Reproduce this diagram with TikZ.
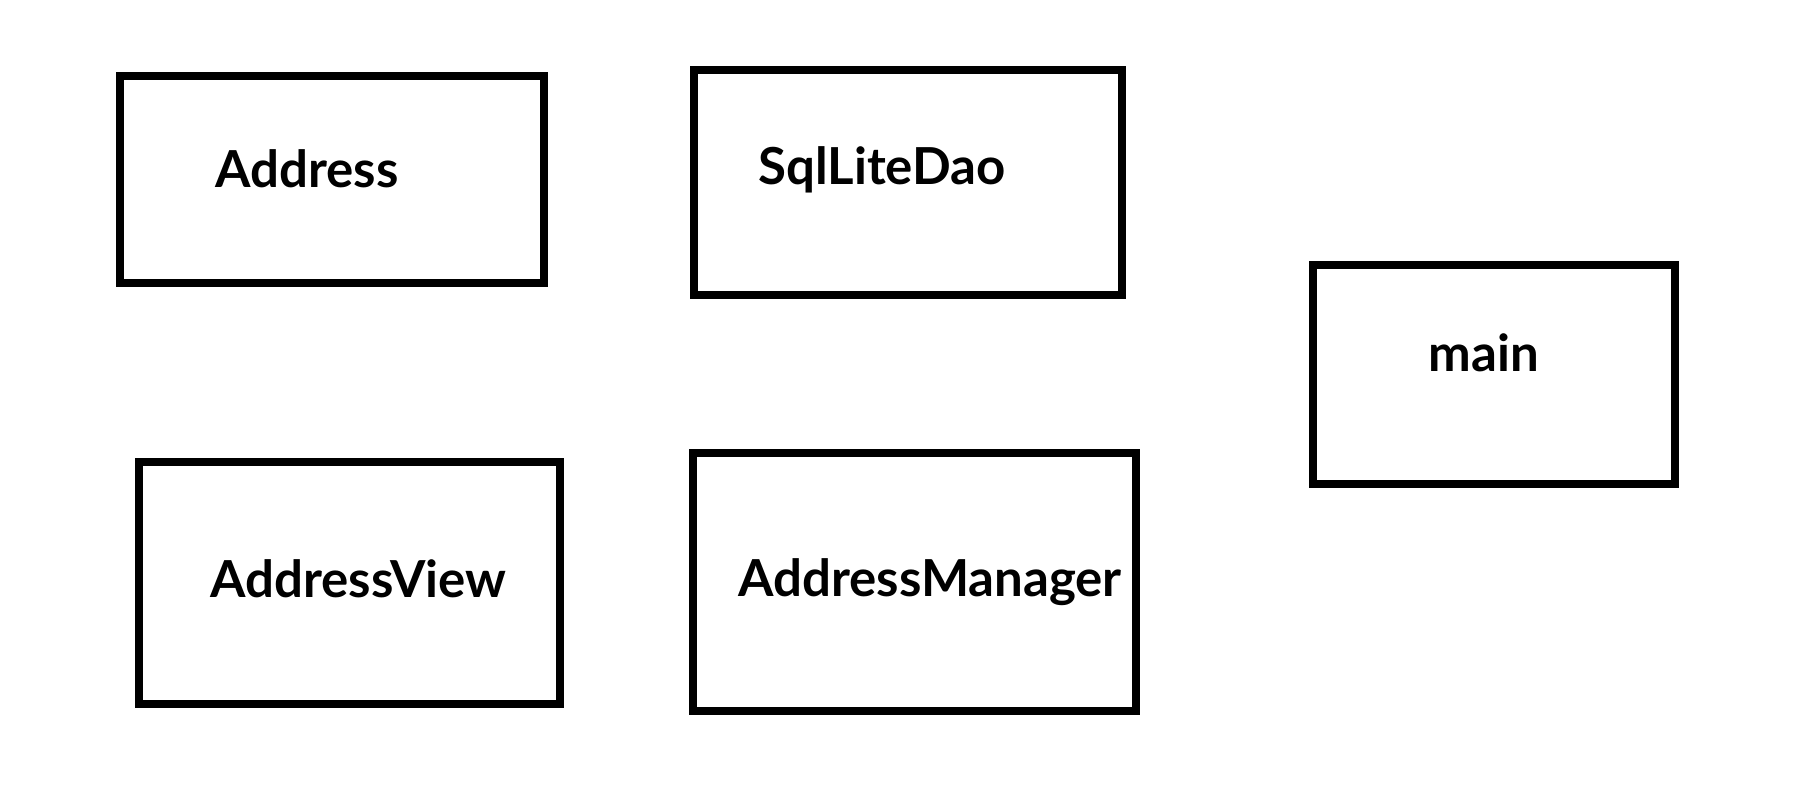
\documentclass[tikz,border=0pt]{standalone}
\usepackage{fontspec}
\setmainfont{Lato}
\begin{document}
\begin{tikzpicture}
	[x=0.5pt, y=-0.5pt,
	box/.style = {draw, rectangle, line width=4pt, inner sep=0pt},
	lbl/.style = {anchor=base west, inner sep=0pt, font=\fontsize{25.5}{30}\selectfont\bfseries}]
\useasboundingbox (0,0) rectangle (1794,801);
\node[box, minimum width=212pt, minimum height=103.5pt] (address) at (332,179.5) {};
\node[box, minimum width=214pt, minimum height=112.5pt] (dao) at (908,182.5) {};
\node[box, minimum width=181pt, minimum height=109.5pt] (main) at (1494,374.5) {};
\node[box, minimum width=210.5pt, minimum height=121pt] (view) at (349.5,583) {};
\node[box, minimum width=221.5pt, minimum height=129pt] (manager) at (914.5,582) {};
% labels sit left of centre
\node[lbl] (address-txt) at (215,188) {Address};
\node[lbl] (dao-txt) at (758,185) {SqlLiteDao};
\node[lbl] (main-txt) at (1428,372) {main};
\node[lbl] (view-txt) at (210,598) {AddressView};
\node[lbl] (manager-txt) at (738,597) {AddressManager};
\end{tikzpicture}
\end{document}
